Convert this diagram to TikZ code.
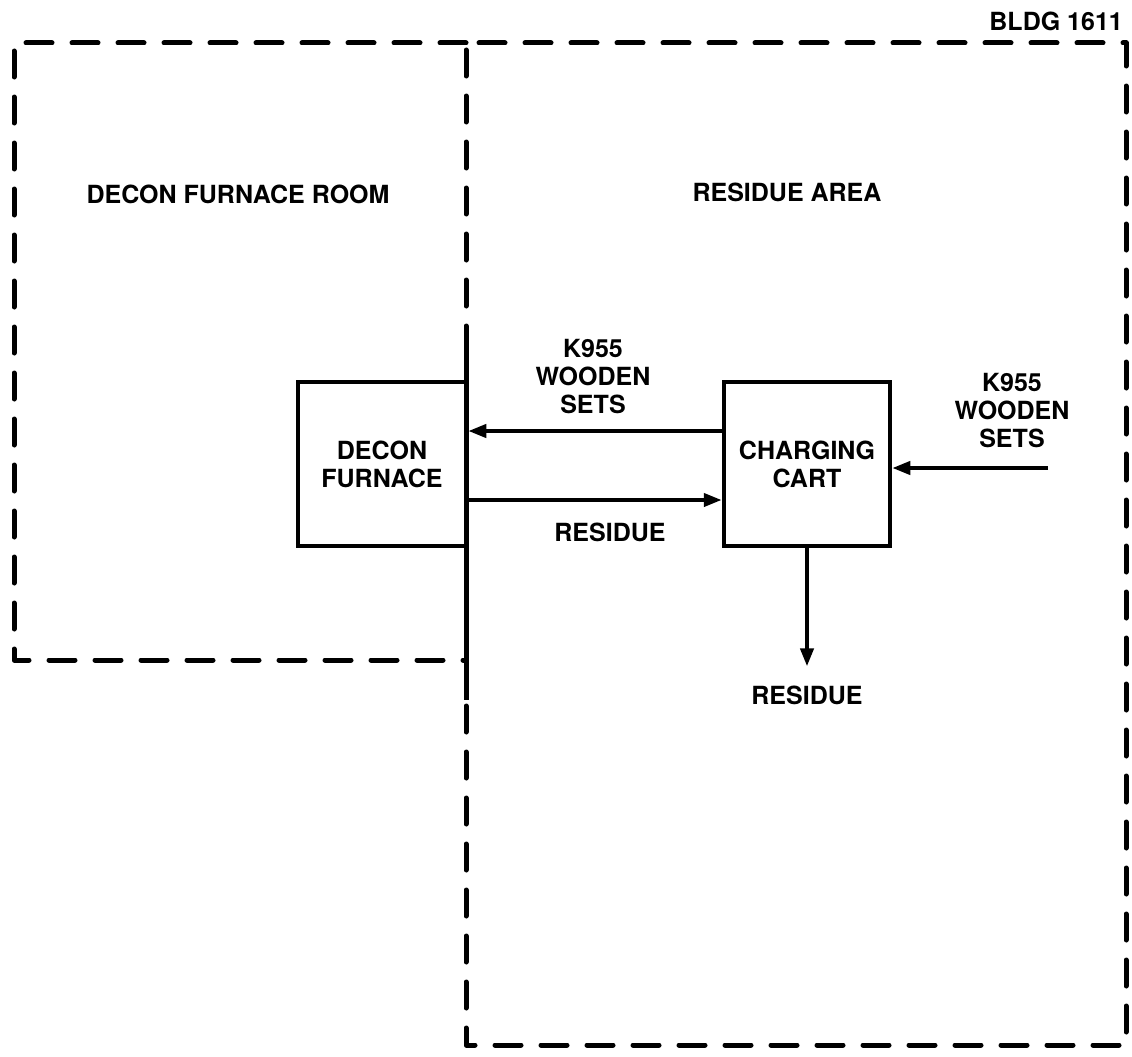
\documentclass[tikz,border=0pt]{standalone}
\usepackage{fontspec}
\setmainfont{TeX Gyre Heros}
\usetikzlibrary{arrows.meta, positioning}

\begin{document}
\begin{tikzpicture}[x=1pt, y=-1pt, >={Triangle[length=18pt, width=13pt]},
    wall/.style={line width=5pt, dash pattern=on 26pt off 20pt, line cap=round, line join=round},
    unit/.style={draw, line width=4.5pt, minimum height=164pt, align=center,
                 font=\fontsize{25}{28}\selectfont\bfseries},
    lbl/.style={font=\fontsize{25}{28}\selectfont\bfseries, inner sep=0pt},
    flow/.style={->, line width=4pt}]
    \useasboundingbox (0,0) rectangle (1132,1057);
    % rooms
    \draw[wall] (466,43) -- (14,43) -- (14,660) -- (466,660);
    \draw[wall] (466,352) -- (466,43) -- (1126,43) -- (1126,1045) -- (466,1045) -- (466,700);
    \draw[line width=5pt] (466,352) -- (466,700);
    \node[lbl] (room)  at (238,194) {DECON FURNACE ROOM};
    \node[lbl] (area)  at (787,192) {RESIDUE AREA};
    \node[lbl, anchor=east] (bldg) at (1123,21) {BLDG 1611};
    % equipment
    \node[unit, minimum width=168pt] (furnace) at (382,464) {DECON\\FURNACE};
    \node[unit, minimum width=166pt] (cart)    at (807,464) {CHARGING\\CART};
    \node[lbl, align=center] (setsin)  at (593,377) {K955\\WOODEN\\SETS};
    \node[lbl, align=center] (setsout) at (1012,411) {K955\\WOODEN\\SETS};
    \node[lbl] (back)    at (610,532) {RESIDUE};
    \node[lbl] (dropout) at (807,695) {RESIDUE};
    \coordinate (feed) at (1048,468);
    \draw[flow] ([yshift=33pt]cart.west) -- ([yshift=33pt]furnace.east);
    \draw[flow] ([yshift=-36pt]furnace.east) -- ([yshift=-36pt]cart.west);
    \draw[flow] (feed) -- (cart.east |- feed);
    \draw[flow] (cart.south) -- ([yshift=19pt]dropout.north);
  \end{tikzpicture}
\end{document}
